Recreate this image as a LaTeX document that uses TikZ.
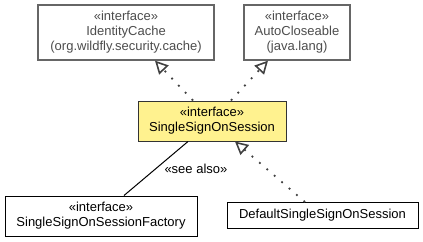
\documentclass[tikz,border=0pt]{standalone}
\usepackage{fontspec}
\setmainfont{Liberation Sans}
\usetikzlibrary{arrows.meta}
\definecolor{ifacegray}{HTML}{666666}
\definecolor{ifacetext}{HTML}{4D4D4D}
\definecolor{hilite}{HTML}{FFF28F}
\tikzset{
  realtip/.tip={Triangle[open, length=13pt, width=13pt, line width=1.6pt, fill=white]}
}
\begin{document}
\begin{tikzpicture}[x=1pt,y=-1pt,
  every node/.style={font=\fontsize{13}{15}\selectfont, align=center, inner sep=0pt},
  extbox/.style={draw=ifacegray, line width=1.3pt, text=ifacetext, fill=white},
  classbox/.style={draw=black, line width=1pt, fill=white},
  focusbox/.style={draw=black!80, line width=1pt, fill=hilite},
  realizes/.style={draw=black!75, line width=1.8pt, dash pattern=on 1.8pt off 8pt, -realtip},
  seealso/.style={draw=black, line width=1pt}]
\useasboundingbox (0,0) rectangle (423,241);
% library interfaces
\node[extbox, minimum width=176pt, minimum height=55pt] (ic) at (126,32.5)
  {«interface»\\IdentityCache\\(org.wildfly.security.cache)};
\node[extbox, minimum width=106pt, minimum height=55pt] (ac) at (297,32.5)
  {«interface»\\AutoCloseable\\(java.lang)};
% the documented interface
\node[focusbox, minimum width=148pt, minimum height=40pt] (ssos) at (212,121)
  {«interface»\\SingleSignOnSession};
% related types
\node[classbox, minimum width=192pt, minimum height=40pt] (fac) at (101,216)
  {«interface»\\SingleSignOnSessionFactory};
\node[classbox, minimum width=191pt, minimum height=26pt] (dflt) at (322.5,215.5)
  {DefaultSingleSignOnSession};
% relations
\draw[realizes] ([xshift=-19pt]ssos.north) -- ([xshift=29pt]ic.south);
\draw[realizes] ([xshift=19pt]ssos.north) -- ([xshift=-29pt]ac.south);
\draw[realizes] ([xshift=-17.5pt]dflt.north) -- ([xshift=23pt]ssos.south);
\draw[seealso] ([xshift=-24pt]ssos.south) -- ([xshift=23pt]fac.north)
  node[pos=0.5, anchor=west, xshift=8pt] (lbl) {«see also»};
\end{tikzpicture}
\end{document}
